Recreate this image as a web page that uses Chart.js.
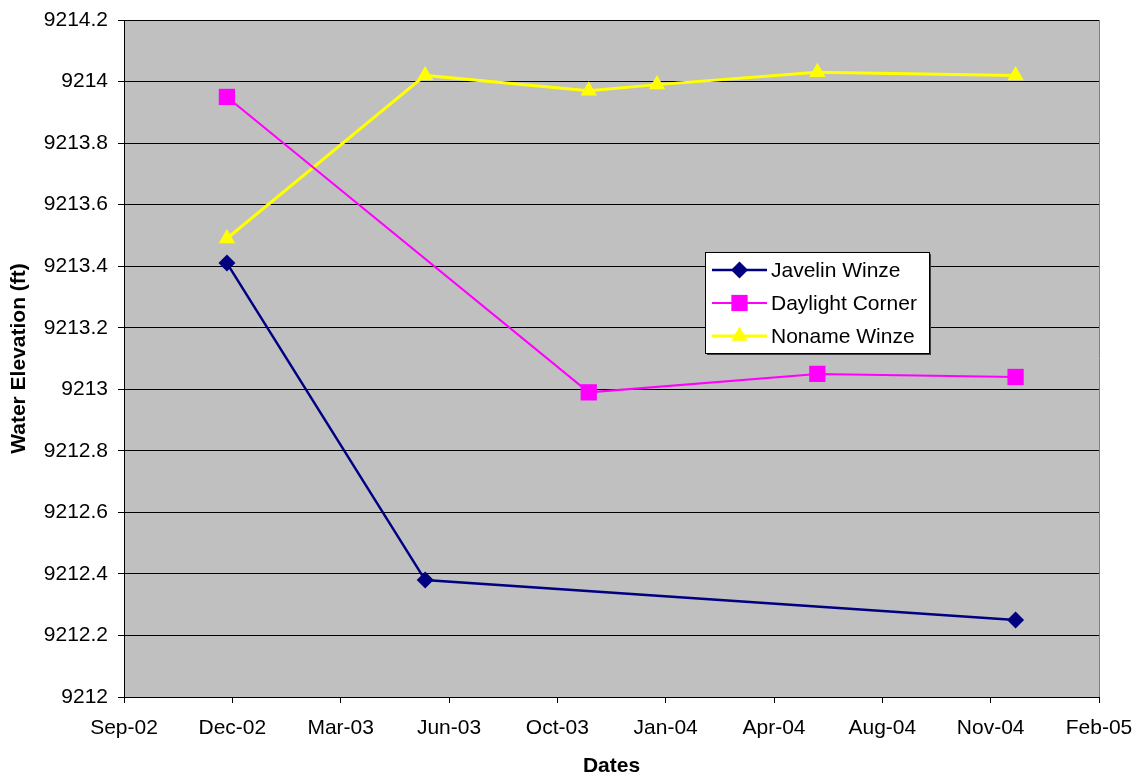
<!DOCTYPE html>
<html>
<head>
<meta charset="utf-8">
<script src="https://cdn.jsdelivr.net/npm/chart.js@4/dist/chart.umd.min.js"></script>
<style>
  html, body { margin: 0; padding: 0; background: #fff; }
  #wrap { width: 1139px; height: 781px; }
</style>
</head>
<body>
<div id="wrap"><canvas id="chart"></canvas></div>
<script>
// sampling dates and water elevations (ft)
const javelinDates = ["2002-12-05", "2003-06-06", "2004-12-02"];
const javelinValues = [9213.41, 9212.38, 9212.25];

const daylightDates = ["2002-12-05", "2003-11-04", "2004-06-02", "2004-12-02"];
const daylightValues = [9213.95, 9212.99, 9213.05, 9213.04];

const nonameDates = ["2002-12-05", "2003-06-06", "2003-11-04", "2004-01-06", "2004-06-02", "2004-12-02"];
const nonameValues = [9213.49, 9214.02, 9213.97, 9213.99, 9214.03, 9214.02];

// x axis is an Excel style date axis: serial days, 100 day steps
const xMin = 37500, xMax = 38400, xStep = 100;
const yMin = 9212, yMax = 9214.2, yStep = 0.2;

const MONTHS = ["Jan","Feb","Mar","Apr","May","Jun","Jul","Aug","Sep","Oct","Nov","Dec"];
const EPOCH = Date.UTC(1899, 11, 30);
function toSerial(s) {
  const p = s.split("-").map(Number);
  return Math.round((Date.UTC(p[0], p[1] - 1, p[2]) - EPOCH) / 86400000);
}
function serialLabel(v) {
  const d = new Date(EPOCH + v * 86400000);
  return MONTHS[d.getUTCMonth()] + "-" + String(d.getUTCFullYear()).slice(2);
}
function pts(dates, values) {
  return dates.map((d, i) => ({ x: toSerial(d), y: values[i] }));
}

const FONT = "'Liberation Sans', Arial, sans-serif";

const plotBg = {
  id: "plotBg",
  beforeDraw(chart) {
    const { ctx, chartArea: a } = chart;
    ctx.save();
    ctx.fillStyle = "#C0C0C0";
    ctx.fillRect(a.left, a.top, a.right - a.left, a.bottom - a.top);
    ctx.restore();
  },
  afterDatasetsDraw(chart) {
    const { ctx, chartArea: a } = chart;
    ctx.save();
    ctx.strokeStyle = "#808080";
    ctx.lineWidth = 1;
    ctx.beginPath();
    ctx.moveTo(a.right + 0.5, a.top);
    ctx.lineTo(a.right + 0.5, a.bottom);
    ctx.stroke();
    ctx.restore();
  }
};

function marker(ctx, style, x, y, r) {
  ctx.beginPath();
  if (style === "rectRot") {
    ctx.moveTo(x, y - r); ctx.lineTo(x + r, y); ctx.lineTo(x, y + r); ctx.lineTo(x - r, y);
  } else if (style === "rect") {
    const s = r * Math.SQRT1_2;
    ctx.rect(x - s, y - s, 2 * s, 2 * s);
  } else {
    ctx.moveTo(x, y - r); ctx.lineTo(x + r * 0.866, y + r / 2); ctx.lineTo(x - r * 0.866, y + r / 2);
  }
  ctx.closePath();
  ctx.fill();
}

// legend box sits inside the plot area, like the Excel original
const boxLegend = {
  id: "boxLegend",
  afterDraw(chart) {
    const ctx = chart.ctx;
    const bx = 705, by = 252, bw = 224, bh = 101;
    ctx.save();
    ctx.fillStyle = "#404040";
    ctx.fillRect(bx + 2, by + 2, bw, bh);
    ctx.fillStyle = "#fff";
    ctx.fillRect(bx, by, bw, bh);
    ctx.strokeStyle = "#000";
    ctx.lineWidth = 1;
    ctx.strokeRect(bx + 0.5, by + 0.5, bw, bh);
    ctx.font = "21px " + FONT;
    ctx.textBaseline = "middle";
    const rows = [270, 303, 336];
    chart.data.datasets.forEach((ds, i) => {
      const y = rows[i];
      ctx.strokeStyle = ds.borderColor;
      ctx.lineWidth = ds.borderWidth;
      ctx.beginPath();
      ctx.moveTo(712, y);
      ctx.lineTo(767, y);
      ctx.stroke();
      ctx.fillStyle = ds.pointBackgroundColor;
      marker(ctx, ds.pointStyle, 739.5, y, ds.pointRadius);
      ctx.fillStyle = "#000";
      ctx.fillText(ds.label, 771, y + 1);
    });
    ctx.restore();
  }
};

new Chart(document.getElementById("chart"), {
  type: "line",
  data: {
    datasets: [
      {
        label: "Javelin Winze",
        data: pts(javelinDates, javelinValues),
        borderColor: "#000080",
        backgroundColor: "#000080",
        pointBackgroundColor: "#000080",
        pointBorderWidth: 0,
        borderWidth: 2.5,
        pointStyle: "rectRot",
        pointRadius: 8.5,
        tension: 0
      },
      {
        label: "Daylight Corner",
        data: pts(daylightDates, daylightValues),
        borderColor: "#FF00FF",
        backgroundColor: "#FF00FF",
        pointBackgroundColor: "#FF00FF",
        pointBorderWidth: 0,
        borderWidth: 2,
        pointStyle: "rect",
        pointRadius: 11.5,
        tension: 0
      },
      {
        label: "Noname Winze",
        data: pts(nonameDates, nonameValues),
        borderColor: "#FFFF00",
        backgroundColor: "#FFFF00",
        pointBackgroundColor: "#FFFF00",
        pointBorderWidth: 0,
        borderWidth: 3,
        pointStyle: "triangle",
        pointRadius: 9.5,
        tension: 0
      }
    ]
  },
  options: {
    responsive: true,
    maintainAspectRatio: false,
    animation: false,
    layout: { padding: { top: 20, right: 40, left: 0, bottom: 0 } },
    plugins: {
      legend: { display: false },
      tooltip: { enabled: false }
    },
    scales: {
      x: {
        type: "linear",
        min: xMin,
        max: xMax,
        afterFit(scale) {
          scale.height = 84;
          scale.paddingLeft = 0;
          scale.paddingRight = 0;
        },
        ticks: {
          stepSize: xStep,
          color: "#000",
          font: { family: FONT, size: 21 },
          padding: 13,
          maxRotation: 0,
          callback: (v) => serialLabel(v)
        },
        grid: { drawOnChartArea: false, drawTicks: true, tickLength: 6, color: "#000" },
        border: { color: "#000", width: 1 },
        title: {
          display: true,
          text: "Dates",
          color: "#000",
          font: { family: FONT, size: 21, weight: "bold" },
          padding: { top: 0, bottom: 2 }
        }
      },
      y: {
        min: yMin,
        max: yMax,
        afterFit(scale) {
          scale.width = 124;
          scale.paddingTop = 0;
          scale.paddingBottom = 0;
        },
        ticks: {
          stepSize: yStep,
          color: "#000",
          font: { family: FONT, size: 21 },
          padding: 10,
          callback: (v) => String(Math.round(v * 10) / 10)
        },
        grid: { color: "#000", lineWidth: 1, tickLength: 6, tickColor: "#000" },
        border: { color: "#000", width: 1 },
        title: {
          display: true,
          text: "Water Elevation (ft)",
          color: "#000",
          font: { family: FONT, size: 21, weight: "bold" },
          padding: { top: 7, bottom: 0 }
        }
      }
    }
  },
  plugins: [plotBg, boxLegend]
});
</script>
</body>
</html>
